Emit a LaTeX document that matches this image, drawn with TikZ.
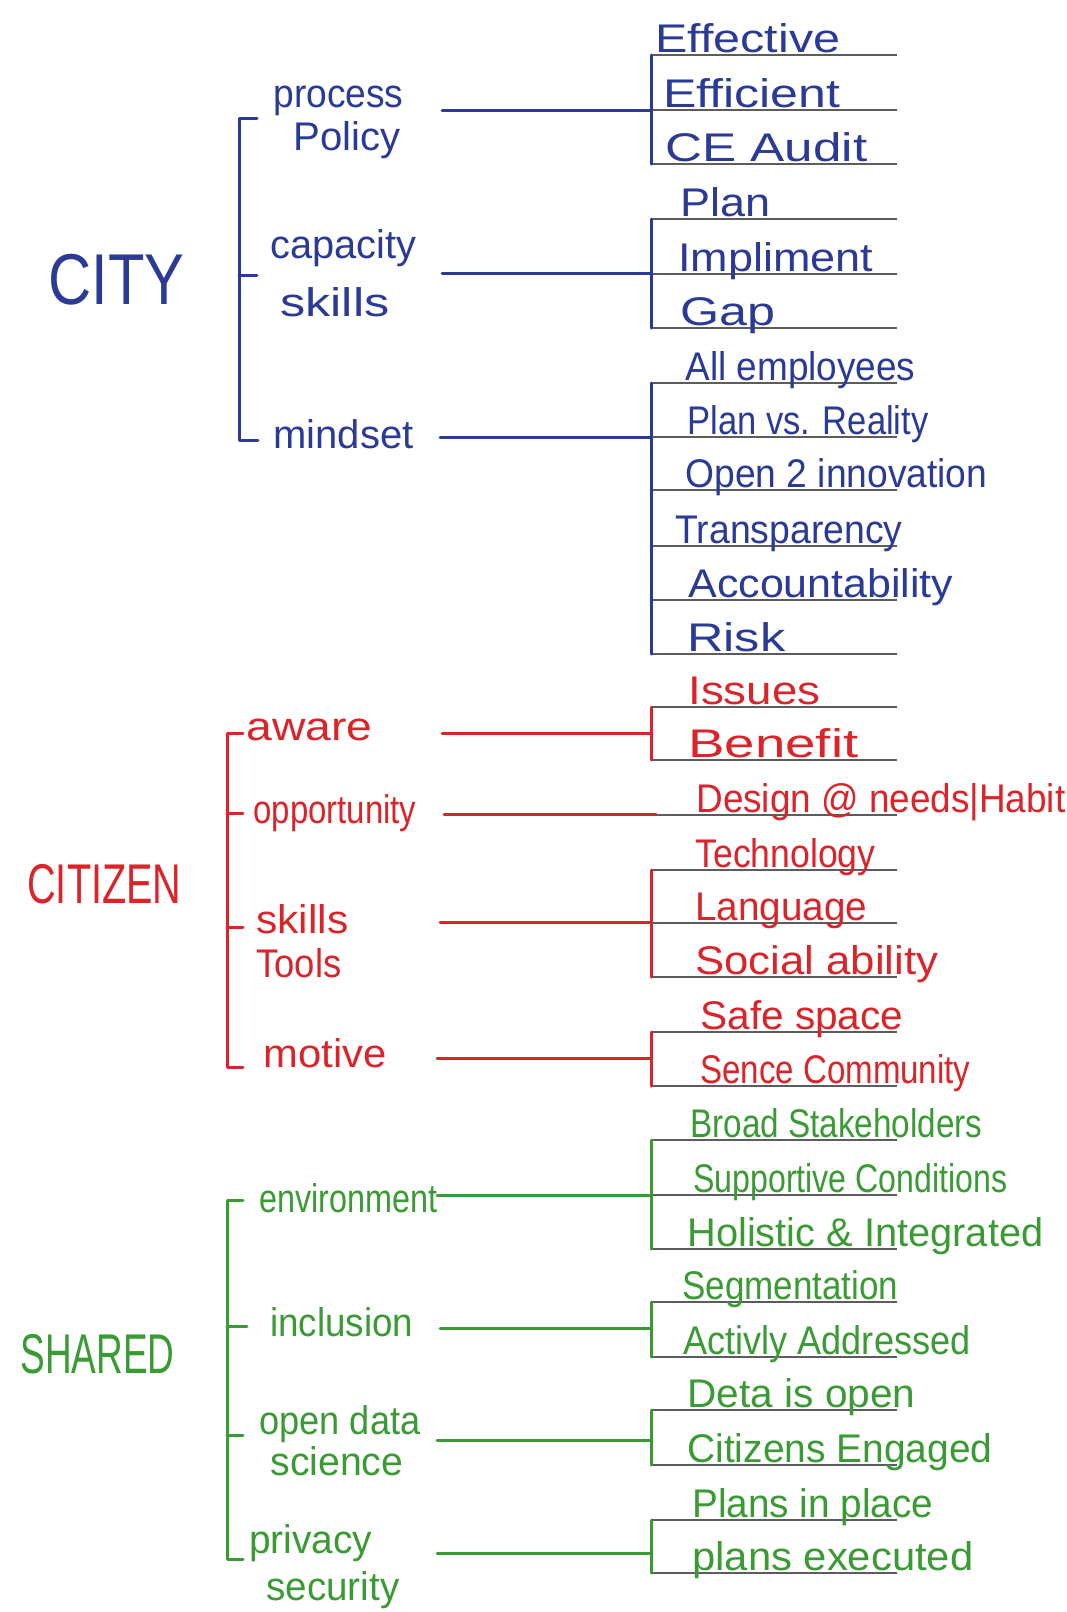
\documentclass[tikz,border=0pt]{standalone}
\usepackage{fontspec}
\usepackage{graphicx}
\setmainfont{Liberation Sans}
\newlength\pxu
\setlength\pxu{0.5pt}
% stretch a word to a given width (in px units), keeping its height
\newcommand\hw[2]{\resizebox{#1\pxu}{\height}{#2}}
\definecolor{inkblue}{HTML}{2A3A96}
\definecolor{inkred}{HTML}{DA242A}
\definecolor{inkgreen}{HTML}{3A9A34}
\definecolor{ruling}{HTML}{5C5C5C}
\tikzset{
  lab/.style={inner sep=0pt, anchor=base west, font=\fontsize{20pt}{24pt}\selectfont},
  head/.style={inner sep=0pt, anchor=base west},
  ink/.style={line width=1.5pt, line cap=round, line join=round},
  rulingline/.style={draw=ruling, line width=1pt},
}
\begin{document}
\begin{tikzpicture}[x=0.5pt, y=-0.5pt]
\useasboundingbox[fill=white] (0,0) rectangle (1066,1612);

% ruled lines of the paper
\foreach \ry in {55,110,164,219,274,328,383,437,490,546,600,654,707,760,815,870,923,977,1032,1086,1140,1195,1249,1302,1357,1410,1465,1520,1573}
  \draw[rulingline] (652,\ry) -- (897,\ry);

% ---------------- CITY ----------------
\begin{scope}[color=inkblue, text=inkblue]
\node[head, font=\fontsize{36pt}{40pt}\selectfont] (city) at (48,304) {\hw{136}{CITY}};

\node[lab] (process) at (273,107) {\hw{130}{process}};
\node[lab] (policy)  at (293,150) {\hw{107}{Policy}};
\node[lab] (capacity) at (270,258) {\hw{146}{capacity}};
\node[lab] (cskills) at (280,316) {\hw{109}{skills}};
\node[lab] (mindset) at (273,448) {\hw{140}{mindset}};

\node[lab] (i0) at (655,52) {\hw{185}{Effective}};
\node[lab] (i1) at (663,107) {\hw{177}{Efficient}};
\node[lab] (i2) at (665,161) {\hw{202}{CE Audit}};
\node[lab] (i3) at (680,216) {\hw{90}{Plan}};
\node[lab] (i4) at (678,271) {\hw{195}{Impliment}};
\node[lab] (i5) at (680,325) {\hw{95}{Gap}};
\node[lab] (i6) at (685,380) {\hw{230}{All employees}};
\node[lab] (i7) at (687,434) {\hw{241}{Plan vs. Reality}};
\node[lab] (i8) at (685,487) {\hw{302}{Open 2 innovation}};
\node[lab] (i9) at (675,543) {\hw{227}{Transparency}};
\node[lab] (i10) at (688,597) {\hw{265}{Accountability}};
\node[lab] (i11) at (687,651) {\hw{98}{Risk}};

% left bracket
\coordinate (cbt) at (239,118); \coordinate (cbm) at (239,275); \coordinate (cbb) at (239,440);
\draw[ink] ([xshift=9pt]cbt) -- (cbt) -- (cbb) -- ([xshift=9.5pt]cbb);
\draw[ink] (cbm) -- ([xshift=9pt]cbm);

% connectors and right brackets
\coordinate (p-s) at (442,110); \coordinate (p-e) at (651,110);
\coordinate (p-t) at (651,55);  \coordinate (p-b) at (651,164);
\draw[ink] (p-s) -- (p-e); \draw[ink] (p-t) -- (p-b);

\coordinate (c-s) at (442,273); \coordinate (c-e) at (651,273);
\coordinate (c-t) at (651,219); \coordinate (c-b) at (651,328);
\draw[ink] (c-s) -- (c-e); \draw[ink] (c-t) -- (c-b);

\coordinate (m-s) at (440,437); \coordinate (m-e) at (651,437);
\coordinate (m-t) at (651,383); \coordinate (m-b) at (651,654);
\draw[ink] (m-s) -- (m-e); \draw[ink] (m-t) -- (m-b);
\end{scope}

% ---------------- CITIZEN ----------------
\begin{scope}[color=inkred, text=inkred]
\node[head, font=\fontsize{28pt}{32pt}\selectfont] (citizen) at (27,903) {\hw{154}{CITIZEN}};

\node[lab] (aware) at (246,740) {\hw{126}{aware}};
\node[lab] (opportunity) at (253,823) {\hw{163}{opportunity}};
\node[lab] (rskills) at (256,933) {\hw{92}{skills}};
\node[lab] (tools) at (256,977) {\hw{85}{Tools}};
\node[lab] (motive) at (263,1067) {\hw{123}{motive}};

\node[lab] (i12) at (688,704) {\hw{132}{Issues}};
\node[lab] (i13) at (688,757) {\hw{170}{Benefit}};
\node[lab] (i14) at (696,812) {\hw{369}{Design @ needs|Habit}};
\node[lab] (i15) at (695,867) {\hw{180}{Technology}};
\node[lab] (i16) at (695,920) {\hw{172}{Language}};
\node[lab] (i17) at (695,974) {\hw{243}{Social ability}};
\node[lab] (i18) at (700,1029) {\hw{203}{Safe space}};
\node[lab] (i19) at (700,1083) {\hw{270}{Sence Community}};

% left bracket
\coordinate (rb1) at (227,733); \coordinate (rb2) at (227,813);
\coordinate (rb3) at (227,927); \coordinate (rb4) at (227,1067);
\draw[ink] ([xshift=8pt]rb1) -- (rb1) -- (rb4) -- ([xshift=8pt]rb4);
\draw[ink] (rb2) -- ([xshift=8pt]rb2);
\draw[ink] (rb3) -- ([xshift=8pt]rb3);

% connectors and right brackets
\coordinate (a-s) at (442,733); \coordinate (a-e) at (651,733);
\coordinate (a-t) at (651,707); \coordinate (a-b) at (651,760);
\draw[ink] (a-s) -- (a-e); \draw[ink] (a-t) -- (a-b);

\coordinate (o-s) at (444,814); \coordinate (o-e) at (656,814);
\draw[ink] (o-s) -- (o-e);

\coordinate (s-s) at (440,922); \coordinate (s-e) at (651,922);
\coordinate (s-t) at (651,870); \coordinate (s-b) at (651,977);
\draw[ink] (s-s) -- (s-e); \draw[ink] (s-t) -- (s-b);

\coordinate (mo-s) at (437,1058); \coordinate (mo-e) at (651,1058);
\coordinate (mo-t) at (651,1032); \coordinate (mo-b) at (651,1086);
\draw[ink] (mo-s) -- (mo-e); \draw[ink] (mo-t) -- (mo-b);
\end{scope}

% ---------------- SHARED ----------------
\begin{scope}[color=inkgreen, text=inkgreen]
\node[head, font=\fontsize{28pt}{32pt}\selectfont] (shared) at (20,1373) {\hw{154}{SHARED}};

\node[lab] (environment) at (259,1212) {\hw{178}{environment}};
\node[lab] (inclusion) at (270,1336) {\hw{143}{inclusion}};
\node[lab] (opendata) at (259,1434) {\hw{161}{open data}};
\node[lab] (science) at (270,1475) {\hw{133}{science}};
\node[lab] (privacy) at (249,1553) {\hw{123}{privacy}};
\node[lab] (security) at (266,1600) {\hw{133}{security}};

\node[lab] (i20) at (690,1137) {\hw{292}{Broad Stakeholders}};
\node[lab] (i21) at (693,1192) {\hw{314}{Supportive Conditions}};
\node[lab] (i22) at (687,1246) {\hw{356}{Holistic \& Integrated}};
\node[lab] (i23) at (682,1299) {\hw{216}{Segmentation}};
\node[lab] (i24) at (683,1354) {\hw{287}{Activly Addressed}};
\node[lab] (i25) at (687,1407) {\hw{228}{Deta is open}};
\node[lab] (i26) at (687,1462) {\hw{305}{Citizens Engaged}};
\node[lab] (i27) at (692,1517) {\hw{241}{Plans in place}};
\node[lab] (i28) at (692,1570) {\hw{281}{plans executed}};

% left bracket
\coordinate (gb1) at (227,1200); \coordinate (gb2) at (227,1326);
\coordinate (gb3) at (227,1435); \coordinate (gb4) at (227,1559);
\draw[ink] ([xshift=8pt]gb1) -- (gb1) -- (gb4) -- ([xshift=8pt]gb4);
\draw[ink] (gb2) -- ([xshift=10pt]gb2);
\draw[ink] (gb3) -- ([xshift=8pt]gb3);

% connectors and right brackets
\coordinate (e-s) at (437,1195); \coordinate (e-e) at (651,1195);
\coordinate (e-t) at (651,1140); \coordinate (e-b) at (651,1249);
\draw[ink] (e-s) -- (e-e); \draw[ink] (e-t) -- (e-b);

\coordinate (n-s) at (440,1328); \coordinate (n-e) at (651,1328);
\coordinate (n-t) at (651,1302); \coordinate (n-b) at (651,1357);
\draw[ink] (n-s) -- (n-e); \draw[ink] (n-t) -- (n-b);

\coordinate (d-s) at (437,1440); \coordinate (d-e) at (651,1440);
\coordinate (d-t) at (651,1410); \coordinate (d-b) at (651,1465);
\draw[ink] (d-s) -- (d-e); \draw[ink] (d-t) -- (d-b);

\coordinate (v-s) at (437,1553); \coordinate (v-e) at (651,1553);
\coordinate (v-t) at (651,1520); \coordinate (v-b) at (651,1573);
\draw[ink] (v-s) -- (v-e); \draw[ink] (v-t) -- (v-b);
\end{scope}
\end{tikzpicture}
\end{document}
